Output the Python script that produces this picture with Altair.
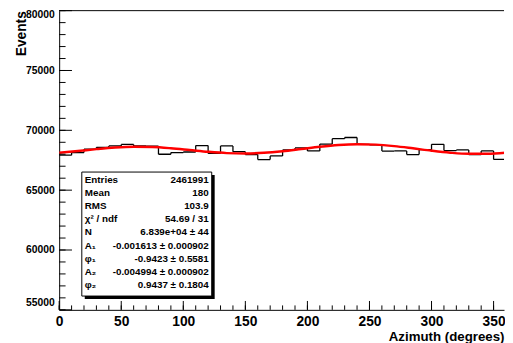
import altair as alt
import pandas as pd

# ---- data ----
bin_lo = list(range(0, 360, 10))
counts = [67920, 68140, 68420, 68580, 68700, 68820, 68690, 68680, 68000, 68140,
          68190, 68730, 68070, 68700, 68220, 67970, 67560, 67860, 68360, 68530,
          68280, 68850, 69300, 69400, 68820, 68780, 68270, 68280, 67970, 68380,
          68830, 68310, 68360, 67970, 68280, 67570]

curve_x = list(range(0, 361, 15))
curve_y = [68125, 68269, 68428, 68558, 68620, 68599, 68501, 68356, 68206, 68096,
           68062, 68118, 68254, 68440, 68630, 68776, 68839, 68805, 68680, 68495,
           68296, 68131, 68039, 68039, 68125]

y_major = [55000, 60000, 65000, 70000, 75000, 80000]
y_minor = list(range(55000, 80001, 1000))
x_major = list(range(0, 351, 50))
x_minor = list(range(0, 360, 10))

stat_labels = ["Entries", "Mean", "RMS", "χ² / ndf", "N", "A₁", "φ₁", "A₂", "φ₂"]
stat_values = ["2461991", "180", "103.9", "54.69 / 31", "6.839e+04 ± 44",
               "-0.001613 ± 0.000902", "-0.9423 ± 0.5581",
               "-0.004994 ± 0.000902", "0.9437 ± 0.1804"]

# ---- layout ----
W, H = 452, 304
FONT = "Liberation Sans"
xs = alt.Scale(domain=[0, 358.4], nice=False, zero=False)
ys = alt.Scale(domain=[55000, 80000], nice=False, zero=False)

xaxis = alt.Axis(values=x_major, ticks=False, grid=False, domainColor="black",
                 domainWidth=1, labelFont=FONT, labelFontWeight="bold",
                 labelFontSize=14, labelColor="black", labelPadding=5,
                 labelFlush=False, labelOverlap=False, labelBaseline="top",
                 format="d",
                 title="Azimuth (degrees)", titleFont=FONT, titleFontSize=13.5,
                 titleFontWeight="bold", titleColor="black", titleAlign="right",
                 titleX=W, titleY=31, titleBaseline="alphabetic")
yaxis = alt.Axis(values=y_major, ticks=False, grid=False, domainColor="black",
                 domainWidth=1, labelFont=FONT, labelFontWeight="bold",
                 labelFontSize=10.5, labelColor="black", labelPadding=5,
                 labelFlush=False, labelOverlap=False, format="d",
                 labelOffset={"condition": [{"test": "datum.value == 55000", "value": -7},
                                            {"test": "datum.value == 80000", "value": 4}],
                              "value": 0},
                 title="Events", titleFont=FONT, titleFontSize=14,
                 titleFontWeight="bold", titleColor="black", titleAngle=270,
                 titleAlign="right", titleX=-34.5, titleY=0,
                 titleBaseline="alphabetic")

X = lambda f: alt.X(f, type="quantitative", scale=xs, axis=xaxis)
Y = lambda f: alt.Y(f, type="quantitative", scale=ys, axis=yaxis)

hist = pd.DataFrame({"x": bin_lo, "x2": [b + 10 for b in bin_lo], "y": counts})
steps = pd.DataFrame({"x": bin_lo[1:], "y": counts[:-1], "y2": counts[1:]})
curve = pd.DataFrame({"x": curve_x, "y": curve_y})
one = pd.DataFrame({"k": [0]})

horiz = alt.Chart(hist).mark_rule(color="black", strokeWidth=1.3, clip=True).encode(
    x=X("x"), x2="x2", y=Y("y"))
vert = alt.Chart(steps).mark_rule(color="black", strokeWidth=1.3, clip=True).encode(
    x=X("x"), y=Y("y"), y2="y2")
fit = alt.Chart(curve).mark_line(color="#ff0000", strokeWidth=2.5,
                                 interpolate="monotone", clip=True).encode(
    x=X("x"), y=Y("y"))

ymaj = alt.Chart(pd.DataFrame({"y": y_major})).mark_rule(color="black", strokeWidth=1).encode(
    y=Y("y"), x=alt.value(0), x2=alt.value(13))
ymin = alt.Chart(pd.DataFrame({"y": y_minor})).mark_rule(color="black", strokeWidth=1).encode(
    y=Y("y"), x=alt.value(0), x2=alt.value(6.5))
xmaj = alt.Chart(pd.DataFrame({"x": x_major})).mark_rule(color="black", strokeWidth=1).encode(
    x=X("x"), y=alt.value(H), y2=alt.value(H - 9))
xmin = alt.Chart(pd.DataFrame({"x": x_minor})).mark_rule(color="black", strokeWidth=1).encode(
    x=X("x"), y=alt.value(H), y2=alt.value(H - 4.5))
topline = alt.Chart(one).mark_rule(color="black", strokeWidth=1).encode(
    x=alt.value(0), x2=alt.value(W), y=alt.value(0))

shadow = alt.Chart(one).mark_rect(color="black").encode(
    x=alt.value(26), x2=alt.value(158), y=alt.value(167), y2=alt.value(293))
box = alt.Chart(one).mark_rect(fill="white", stroke="black", strokeWidth=1).encode(
    x=alt.value(23), x2=alt.value(155), y=alt.value(164), y2=alt.value(290))
lab = alt.Chart(one).mark_text(text=stat_labels, lineHeight=13.35, align="left",
                               baseline="middle", font=FONT, fontSize=10,
                               fontWeight="bold", color="black").encode(
    x=alt.value(26), y=alt.value(172))
val = alt.Chart(one).mark_text(text=stat_values, lineHeight=13.35, align="right",
                               baseline="middle", font=FONT, fontSize=10,
                               fontWeight="bold", color="black").encode(
    x=alt.value(152), y=alt.value(172))

chart = alt.layer(horiz, vert, fit, ymaj, ymin, xmaj, xmin, topline,
                  shadow, box, lab, val).properties(
    width=W, height=H,
    autosize=alt.AutoSizeParams(type="none"),
    padding={"left": 52, "top": 0, "right": 1, "bottom": 31},
    background="white",
).configure_view(stroke=None)

chart.save("out.html", embed_options={"renderer": "svg", "actions": False})
